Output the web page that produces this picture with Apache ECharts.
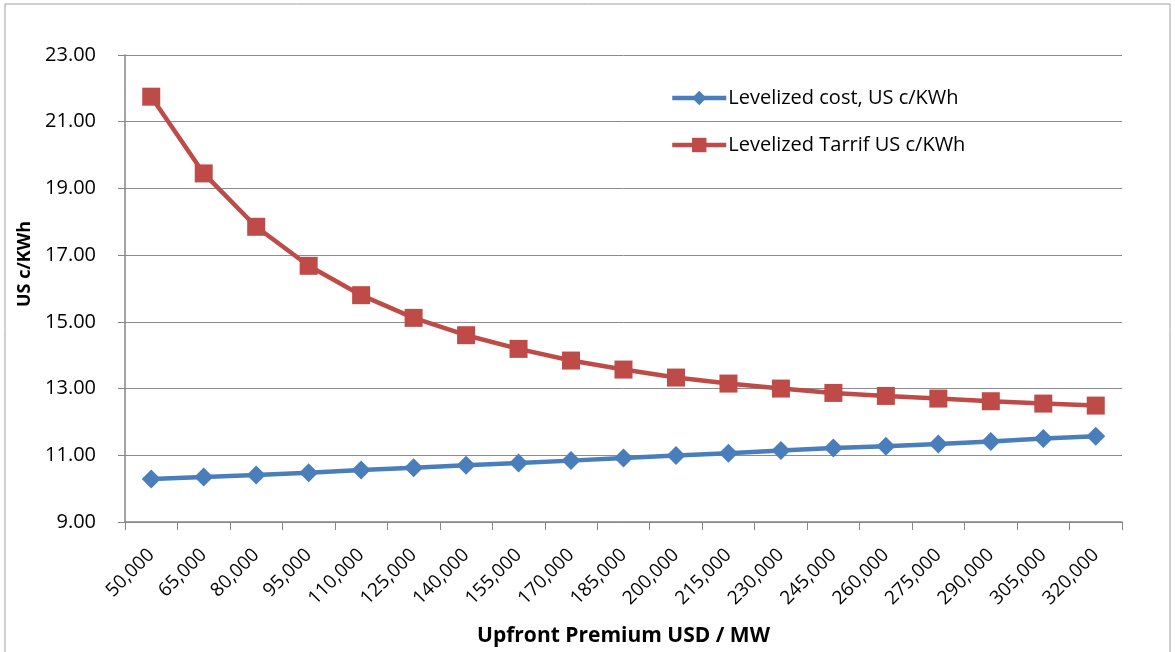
<!DOCTYPE html>
<html><head><meta charset="utf-8">
<script src="https://cdn.jsdelivr.net/npm/echarts@6/dist/echarts.min.js"></script>
<style>html,body{margin:0;padding:0;background:#fff}#c{width:1175px;height:652px}</style>
</head><body><div id="c"></div>
<script>
const categories = ['50,000','65,000','80,000','95,000','110,000','125,000','140,000','155,000','170,000','185,000','200,000','215,000','230,000','245,000','260,000','275,000','290,000','305,000','320,000'];
const costValues = [10.29,10.35,10.41,10.48,10.56,10.63,10.70,10.77,10.84,10.92,10.99,11.06,11.14,11.22,11.27,11.34,11.41,11.50,11.57];
const tariffValues = [21.75,19.45,17.85,16.68,15.80,15.12,14.60,14.19,13.84,13.57,13.33,13.15,13.00,12.87,12.78,12.70,12.62,12.55,12.49];
const seriesNames = ['Levelized cost, US c/KWh','Levelized Tarrif US c/KWh'];
const xTitle = 'Upfront Premium USD / MW';
const yTitle = 'US c/KWh';
const font = 'Open Sans, Noto Sans, sans-serif';
const chart = echarts.init(document.getElementById('c'));
chart.setOption({
  animation:false,
  backgroundColor:'#fff',
  graphic:[
    {type:'rect',shape:{x:5,y:4,width:1165,height:660},style:{fill:'none',stroke:'#a0a0a0',lineWidth:1},silent:true},
    {type:'text',x:25,y:264,rotation:Math.PI/2,silent:true,
      style:{text:yTitle,fontFamily:font,fontSize:18,fontWeight:'bold',fill:'#000',align:'center',verticalAlign:'middle'}}
  ],
  grid:{left:125,right:53,top:55,bottom:129},
  legend:{orient:'vertical',left:665,top:83,itemGap:27,itemWidth:54,itemHeight:18,
    lineStyle:{width:4.5},
    textStyle:{fontFamily:font,fontSize:20,color:'#000',padding:[0,0,0,-3]},
    data:seriesNames},
  xAxis:{type:'category',data:categories,boundaryGap:true,
    name:xTitle,nameLocation:'middle',nameGap:104,
    nameTextStyle:{fontFamily:font,fontSize:21,fontWeight:'bold',color:'#000'},
    axisLine:{lineStyle:{color:'#868686',width:1.5}},
    axisTick:{show:true,length:8,interval:0,lineStyle:{color:'#868686'}},
    axisLabel:{rotate:45,interval:0,fontFamily:font,fontSize:19,color:'#000',margin:30}},
  yAxis:{type:'value',min:9,max:23,interval:2,
    axisLine:{show:true,lineStyle:{color:'#868686',width:1.5}},
    axisTick:{show:true,length:7,inside:false,lineStyle:{color:'#868686'}},
    axisLabel:{formatter:v=>v.toFixed(2),fontFamily:font,fontSize:20,color:'#000',margin:29},
    splitLine:{lineStyle:{color:'#8c8c8c',width:1}}},
  series:[
    {name:seriesNames[0],type:'line',data:costValues,symbol:'diamond',symbolSize:19,
      lineStyle:{color:'#4a7ebb',width:4.5},itemStyle:{color:'#4a7ebb'}},
    {name:seriesNames[1],type:'line',data:tariffValues,symbol:'rect',symbolSize:18,
      lineStyle:{color:'#be4b48',width:4.5},itemStyle:{color:'#be4b48'}}
  ]
});
</script></body></html>
